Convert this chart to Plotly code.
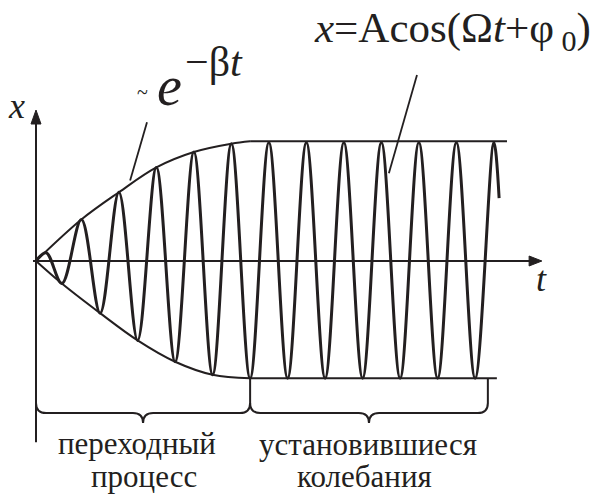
import plotly.graph_objects as go

INK = "#231f20"
SERIF = "Liberation Serif, Times New Roman, serif"

# t in oscillation periods, x in units of the steady amplitude
# successive extrema of the oscillation (origin first, last point where the curve stops)
osc_t = [0, 0.27, 0.69, 1.21, 1.71, 2.21, 2.71, 3.21, 3.71, 4.21, 4.71, 5.21,
         5.71, 6.21, 6.71, 7.21, 7.71, 8.21, 8.71, 9.21, 9.71, 10.21, 10.71,
         11.21, 11.71, 12.21, 12.35]
osc_x = [0, 0.07, -0.19, 0.35, -0.44, 0.58, -0.67, 0.79, -0.85, 0.92, -0.96, 0.99,
         -0.99, 1.0, -0.99, 1.0, -0.99, 1.0, -0.99, 1.0, -0.99, 1.0, -0.99,
         1.0, -0.99, 1.0, 0.53]

# envelope ~ e^{-beta t} of the transient
env_up_t = [0, 1.21, 2.21, 3.21, 4.21, 5.21, 5.71]
env_up_x = [0, 0.35, 0.58, 0.79, 0.92, 0.99, 1.01]
env_lo_t = [0, 0.69, 1.71, 2.71, 3.71, 4.71, 5.71]
env_lo_x = [0, -0.19, -0.44, -0.67, -0.85, -0.96, -0.99]

# steady amplitude lines
steady_up_t = [5.71, 12.56]
steady_up_x = [1.01, 1.01]
steady_lo_t = [5.71, 12.29]
steady_lo_x = [-0.99, -0.99]

transient_end = 5.71
steady_end = 12.05

fig = go.Figure()

fig.add_trace(go.Scatter(x=env_up_t, y=env_up_x, mode="lines",
                         line=dict(color=INK, width=2, shape="spline")))
fig.add_trace(go.Scatter(x=env_lo_t, y=env_lo_x, mode="lines",
                         line=dict(color=INK, width=2, shape="spline")))
fig.add_trace(go.Scatter(x=steady_up_t, y=steady_up_x, mode="lines",
                         line=dict(color=INK, width=2)))
fig.add_trace(go.Scatter(x=steady_lo_t, y=steady_lo_x, mode="lines",
                         line=dict(color=INK, width=2)))
fig.add_trace(go.Scatter(x=osc_t, y=osc_x, mode="lines",
                         line=dict(color=INK, width=3, shape="spline", smoothing=1)))

line_style = dict(color=INK, width=2)
shapes = [
    # axes
    dict(type="line", x0=-0.08, y0=0, x1=13.3, y1=0, line=line_style),
    dict(type="line", x0=0, y0=-1.53, x1=0, y1=1.2, line=line_style),
    # arrow heads
    dict(type="path", path="M 13.49,0 L 13.15,0.042 L 13.15,-0.042 Z",
         fillcolor=INK, line=dict(color=INK, width=1)),
    dict(type="path", path="M 0,1.274 L -0.133,1.156 L 0.133,1.156 Z",
         fillcolor=INK, line=dict(color=INK, width=1)),
    # pointers
    dict(type="line", x0=2.96, y0=1.17, x1=2.51, y1=0.68,
         line=dict(color=INK, width=1.8)),
    dict(type="line", x0=10.16, y0=1.57, x1=9.41, y1=0.74,
         line=dict(color=INK, width=1.8)),
    # end ticks of the braces
    dict(type="line", x0=transient_end, y0=-0.99, x1=transient_end, y1=-1.2,
         line=line_style),
    dict(type="line", x0=steady_end, y0=-0.99, x1=steady_end, y1=-1.2,
         line=line_style),
]


def brace(a, b):
    m = (a + b) / 2
    top, mid, tip = -1.198, -1.283, -1.367
    d = 0.27
    return (f"M {a},{top} Q {a},{mid} {a + d},{mid} L {m - d},{mid} "
            f"Q {m},{mid} {m},{tip} Q {m},{mid} {m + d},{mid} "
            f"L {b - d},{mid} Q {b},{mid} {b},{top}")


shapes.append(dict(type="path", path=brace(0, transient_end), line=line_style))
shapes.append(dict(type="path", path=brace(transient_end, steady_end), line=line_style))


def label(text, x, y, size, xanchor="center"):
    return dict(text=text, x=x, y=y, xref="x", yref="y", showarrow=False,
                xanchor=xanchor, yanchor="middle",
                font=dict(family=SERIF, size=size, color=INK))


annotations = [
    label("<i>x</i>", -0.51, 1.31, 36),
    label("<i>t</i>", 13.49, -0.15, 36),
    label("~", 2.83, 1.43, 20),
    label("<i>e</i>", 3.57, 1.48, 56),
    label("\u2212\u03b2<i>t</i>", 4.74, 1.68, 42),
    label("<i>x</i>=Acos(\u03a9<i>t</i>+\u03c6<sub> 0</sub>)", 7.35, 1.94, 43, "left"),
    label("переходный", 2.69, -1.54, 31),
    label("процесс", 2.88, -1.815, 31),
    label("установившиеся", 8.85, -1.55, 31),
    label("колебания", 8.77, -1.815, 31),
]

fig.update_layout(
    width=598, height=495,
    margin=dict(l=0, r=0, t=0, b=0),
    paper_bgcolor="white", plot_bgcolor="white",
    showlegend=False,
    xaxis=dict(range=[-0.96, 14.987], visible=False, fixedrange=True),
    yaxis=dict(range=[-1.9747, 2.2025], visible=False, fixedrange=True),
    shapes=shapes,
    annotations=annotations,
)

# drop the default 8px body margin so the figure fills the window
fig.write_html("out.html", config={"displayModeBar": False},
               post_script="document.body.style.margin = '0';")
